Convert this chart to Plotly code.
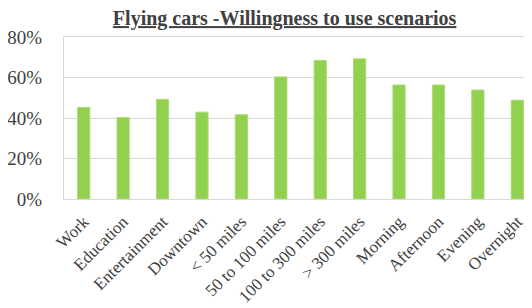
import plotly.graph_objects as go

categories = ["Work", "Education", "Entertainment", "Downtown", "< 50 miles",
              "50 to 100 miles", "100 to 300 miles", "> 300 miles", "Morning",
              "Afternoon", "Evening", "Overnight"]
values = [0.452, 0.402, 0.492, 0.429, 0.416, 0.603, 0.684, 0.692, 0.563, 0.563, 0.538, 0.488]
y_ticks = [0, 0.2, 0.4, 0.6, 0.8]
y_tick_labels = ["0%", "20%", "40%", "60%", "80%"]
title = "Flying cars -Willingness to use scenarios"

fig = go.Figure(go.Bar(
    x=categories, y=values,
    marker=dict(color="#92D050", line=dict(color="#A9DC74", width=1)),
))

font = "Liberation Serif, Times New Roman, serif"
fig.update_layout(
    width=532, height=308,
    margin=dict(l=56, r=3, t=29, b=117, autoexpand=False),
    paper_bgcolor="white", plot_bgcolor="white",
    bargap=0.69,
    showlegend=False,
    title=dict(text="<b><u>" + title + "</u></b>", x=0.52, xanchor="center",
               y=0.99, yanchor="top",
               font=dict(family=font, size=20, color="#404040")),
    xaxis=dict(tickangle=-45, tickfont=dict(family=font, size=17, color="#404040"),
               showline=True, linecolor="#D9D9D9", mirror=True, ticks="",
               ticklabelstandoff=5, automargin=False),
    yaxis=dict(range=[0, 0.8], tickvals=y_ticks, ticktext=y_tick_labels,
               tickfont=dict(family=font, size=19, color="#404040"),
               showgrid=True, gridcolor="#D9D9D9", gridwidth=1,
               showline=True, linecolor="#D9D9D9", mirror=True, zeroline=False,
               ticks="", ticklabelstandoff=17, automargin=False),
)
fig.write_html("out.html")
